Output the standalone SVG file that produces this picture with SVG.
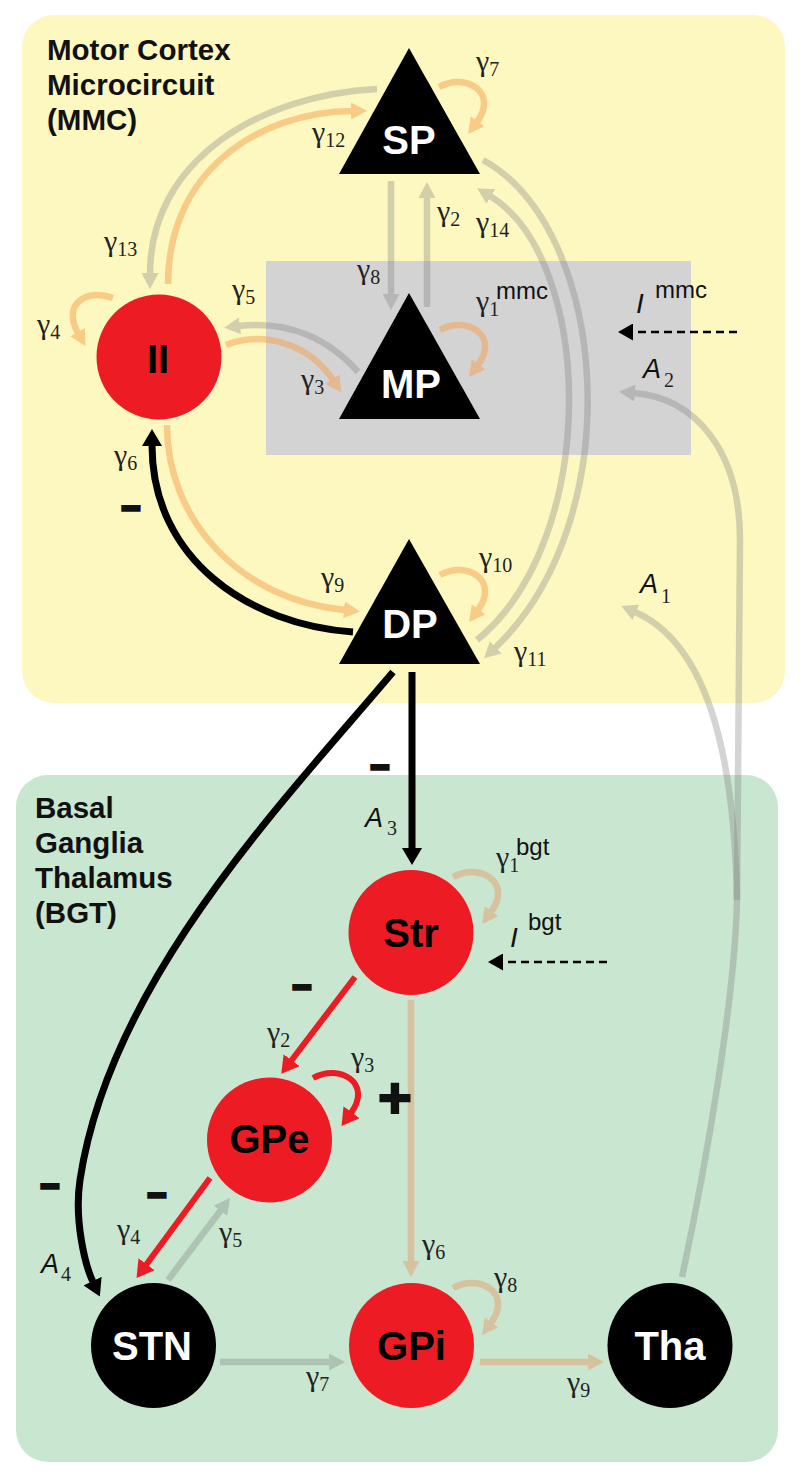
<svg xmlns="http://www.w3.org/2000/svg" width="800" height="1479" viewBox="0 0 800 1479">
<style>
.nodeW{font-family:"Liberation Sans",Arial,sans-serif;font-weight:bold;font-size:40px;fill:#fff;text-anchor:middle}
.nodeB{font-family:"Liberation Sans",Arial,sans-serif;font-weight:bold;font-size:40px;fill:#000;text-anchor:middle}
.title{font-family:"Liberation Sans",Arial,sans-serif;font-weight:bold;font-size:29.5px;fill:#111}
.g{font-family:"Liberation Serif","DejaVu Serif",serif;font-size:30px;fill:#222}
.sub{font-size:20px}
.sup{font-family:"Liberation Sans",Arial,sans-serif;font-size:24px;fill:#111}
.ital{font-family:"Liberation Sans",Arial,sans-serif;font-style:italic;font-size:28px;fill:#111}
.A{font-family:"Liberation Sans",Arial,sans-serif;font-style:italic;font-size:27px;fill:#111}
.An{font-family:"Liberation Serif","DejaVu Serif",serif;font-size:20px;fill:#222}
.sign{font-family:"Liberation Sans",Arial,sans-serif;font-weight:bold;font-size:32px;fill:#111;stroke:#111;stroke-width:3.5;text-anchor:middle}
.plus{font-family:"Liberation Sans",Arial,sans-serif;font-weight:bold;font-size:58px;fill:#111;stroke:#111;stroke-width:2;text-anchor:middle}
.gr{fill:none;stroke:#7e7e7e;stroke-width:6.5}
.or{fill:none;stroke:#f5a050;stroke-width:6.5}
.bk{fill:none;stroke:#000;stroke-width:7}
.rd{fill:none;stroke:#ed1c24;stroke-width:6}
.tn{fill:none;stroke:#d6c29e;stroke-width:6.5}
.ds{fill:none;stroke:#000;stroke-width:2.5;stroke-dasharray:8 5}
</style>
<defs>
<marker id="mGr" viewBox="0 0 16 17" refX="1" refY="8.5" markerWidth="16" markerHeight="17" markerUnits="userSpaceOnUse" orient="auto"><path d="M0,0L16,8.5L0,17z" fill="#7e7e7e"/></marker>
<marker id="mOr" viewBox="0 0 16 17" refX="1" refY="8.5" markerWidth="16" markerHeight="17" markerUnits="userSpaceOnUse" orient="auto"><path d="M0,0L16,8.5L0,17z" fill="#f5a050"/></marker>
<marker id="mTn" viewBox="0 0 16 17" refX="1" refY="8.5" markerWidth="16" markerHeight="17" markerUnits="userSpaceOnUse" orient="auto"><path d="M0,0L16,8.5L0,17z" fill="#d6c29e"/></marker>
<marker id="mBk" viewBox="0 0 17 20" refX="1" refY="10" markerWidth="17" markerHeight="20" markerUnits="userSpaceOnUse" orient="auto"><path d="M0,0L17,10L0,20z" fill="#000"/></marker>
<marker id="mRd" viewBox="0 0 17 20" refX="1" refY="10" markerWidth="17" markerHeight="20" markerUnits="userSpaceOnUse" orient="auto"><path d="M0,0L17,10L0,20z" fill="#ed1c24"/></marker>
<marker id="mDs" viewBox="0 0 15 17" refX="1" refY="8.5" markerWidth="15" markerHeight="17" markerUnits="userSpaceOnUse" orient="auto"><path d="M0,0L15,8.5L0,17z" fill="#000"/></marker>
</defs>
<rect width="800" height="1479" fill="#fff"/>
<g id="mmc-region">
<rect x="22" y="15" width="763" height="688" rx="32" fill="#fdf8c0"/>
<rect x="266" y="261" width="425" height="194" fill="#d3d3d3"/>
<text class="title" x="47" y="60">Motor Cortex</text>
<text class="title" x="47" y="95">Microcircuit</text>
<text class="title" x="47" y="130">(MMC)</text>
</g>
<g id="bgt-region">
<rect x="16" y="775" width="762" height="687" rx="32" fill="#c8e6d0"/>
<text class="title" x="35" y="818">Basal</text>
<text class="title" x="35" y="853">Ganglia</text>
<text class="title" x="35" y="888">Thalamus</text>
<text class="title" x="35" y="923">(BGT)</text>
</g>
<g id="connectors">
<g opacity="0.33"><path class="gr" marker-end="url(#mGr)" d="M377,89 C260,95 150,160 150,274"/></g>
<g opacity="0.5"><path class="or" marker-end="url(#mOr)" d="M168,284 C168,170 260,112 352,111"/></g>
<g opacity="0.5"><path class="or" marker-end="url(#mOr)" d="M439,87 C465,72 499,92 477,122"/></g>
<g opacity="0.33"><path class="gr" marker-end="url(#mGr)" d="M391,181 L391,295"/></g>
<g opacity="0.33"><path class="gr" marker-end="url(#mGr)" d="M427,307 L427,197"/></g>
<g opacity="0.33"><path class="gr" marker-end="url(#mGr)" d="M477,640 C600,540 595,260 490,196"/></g>
<g opacity="0.33"><path class="gr" marker-end="url(#mGr)" d="M483,160 C610,230 630,520 495,648"/></g>
<g opacity="0.5"><path class="or" marker-end="url(#mOr)" d="M440,330 C466,315 500,335 478,365"/></g>
<g opacity="0.33"><path class="gr" marker-end="url(#mGr)" d="M358,372 C330,340 290,320 239,326"/></g>
<g opacity="0.5"><path class="or" marker-end="url(#mOr)" d="M226,345 C265,330 310,345 333,380"/></g>
<g opacity="0.5"><path class="or" marker-end="url(#mOr)" d="M113,298 C85,288 62,305 78,333"/></g>
<path class="bk" marker-end="url(#mBk)" d="M353,632 C250,625 152,560 152,445"/>
<g opacity="0.5"><path class="or" marker-end="url(#mOr)" d="M167,425 C167,520 240,600 345,610"/></g>
<g opacity="0.5"><path class="or" marker-end="url(#mOr)" d="M440,575 C466,560 500,580 478,610"/></g>
<path class="ds" marker-end="url(#mDs)" d="M737,332 L632,332"/>
<g opacity="0.33"><path class="gr" marker-end="url(#mGr)" d="M682,1277 C705,1170 735,1000 737,900 L740,540 C740,450 695,398 634,393"/></g>
<g opacity="0.33"><path class="gr" marker-end="url(#mGr)" d="M737,900 C735,800 722,650 635,612"/></g>
<path class="bk" marker-end="url(#mBk)" d="M412,672 L412,849"/>
<path class="bk" marker-end="url(#mBk)" d="M393,672 C285,800 110,980 80,1180 C74,1220 85,1265 93,1282"/>
<path class="tn" marker-end="url(#mTn)" d="M453,877 C479,862 513,882 491,912"/>
<path class="ds" marker-end="url(#mDs)" d="M607,962 L502,962"/>
<path class="rd" marker-end="url(#mRd)" d="M355,977 L291,1061"/>
<path class="rd" marker-end="url(#mRd)" d="M313,1078 C339,1063 373,1083 351,1113"/>
<path class="tn" marker-end="url(#mTn)" d="M411,1000 L411,1262"/>
<path class="rd" marker-end="url(#mRd)" d="M210,1178 L146,1265"/>
<g opacity="0.33"><path class="gr" marker-end="url(#mGr)" d="M168,1280 L221,1210"/></g>
<g opacity="0.33"><path class="gr" marker-end="url(#mGr)" d="M220,1362 L330,1362"/></g>
<path class="tn" marker-end="url(#mTn)" d="M453,1288 C479,1273 513,1293 491,1323"/>
<path class="tn" marker-end="url(#mTn)" d="M480,1362 L589,1362"/>
</g>
<g id="SP"><path d="M409,48 L339,174 L480,174 Z" fill="#000"/><text class="nodeW" x="409" y="154">SP</text></g>
<g id="MP"><path d="M409,293 L339,419 L480,419 Z" fill="#000"/><text class="nodeW" x="411" y="398">MP</text></g>
<g id="DP"><path d="M409,539 L339,664 L480,664 Z" fill="#000"/><text class="nodeW" x="410" y="638">DP</text></g>
<g id="II"><circle cx="159" cy="357" r="62.5" fill="#ed1c24"/><text class="nodeB" x="158" y="373">II</text></g>
<g id="Str"><circle cx="411" cy="932.5" r="62.5" fill="#ed1c24"/><text class="nodeB" x="411" y="947">Str</text></g>
<g id="GPe"><circle cx="269.5" cy="1140" r="62.5" fill="#ed1c24"/><text class="nodeB" x="269.5" y="1153">GPe</text></g>
<g id="STN"><circle cx="153.5" cy="1345.5" r="62.5" fill="#000"/><text class="nodeW" x="152" y="1360">STN</text></g>
<g id="GPi"><circle cx="411.5" cy="1345.5" r="62.5" fill="#ed1c24"/><text class="nodeB" x="411.5" y="1360">GPi</text></g>
<g id="Tha"><circle cx="670" cy="1345.5" r="62.5" fill="#000"/><text class="nodeW" x="670" y="1360">Tha</text></g>
<g id="labels">
<text class="g" x="476" y="71">γ<tspan class="sub" dy="5">7</tspan></text>
<text class="g" x="312" y="142">γ<tspan class="sub" dy="5">12</tspan></text>
<text class="g" x="104" y="251">γ<tspan class="sub" dy="5">13</tspan></text>
<text class="g" x="437" y="221">γ<tspan class="sub" dy="5">2</tspan></text>
<text class="g" x="476" y="232">γ<tspan class="sub" dy="5">14</tspan></text>
<text class="g" x="357" y="279">γ<tspan class="sub" dy="5">8</tspan></text>
<text class="g" x="476" y="311">γ<tspan class="sub" dy="5">1</tspan></text>
<text class="sup" x="496" y="299">mmc</text>
<text class="ital" x="636" y="313">I</text>
<text class="sup" x="655" y="298">mmc</text>
<text class="g" x="232" y="299">γ<tspan class="sub" dy="5">5</tspan></text>
<text class="g" x="37" y="334">γ<tspan class="sub" dy="5">4</tspan></text>
<text class="g" x="301" y="389">γ<tspan class="sub" dy="5">3</tspan></text>
<text class="A" x="643" y="378">A</text><text class="An" x="664" y="387">2</text>
<text class="g" x="114" y="465">γ<tspan class="sub" dy="5">6</tspan></text>
<text class="sign" x="131" y="517">–</text>
<text class="g" x="321" y="587">γ<tspan class="sub" dy="5">9</tspan></text>
<text class="g" x="479" y="567">γ<tspan class="sub" dy="5">10</tspan></text>
<text class="g" x="514" y="661">γ<tspan class="sub" dy="5">11</tspan></text>
<text class="A" x="640" y="593">A</text><text class="An" x="661" y="603">1</text>
<text class="sign" x="380" y="776">–</text>
<text class="A" x="365" y="827">A</text><text class="An" x="387" y="835">3</text>
<text class="g" x="496" y="867">γ<tspan class="sub" dy="5">1</tspan></text>
<text class="sup" x="516" y="855">bgt</text>
<text class="ital" x="510" y="947">I</text>
<text class="sup" x="528" y="930">bgt</text>
<text class="sign" x="302" y="996">–</text>
<text class="g" x="267" y="1042">γ<tspan class="sub" dy="5">2</tspan></text>
<text class="g" x="351" y="1067">γ<tspan class="sub" dy="5">3</tspan></text>
<text class="plus" x="395" y="1118">+</text>
<text class="sign" x="50" y="1195">–</text>
<text class="sign" x="157" y="1204">–</text>
<text class="g" x="117" y="1239">γ<tspan class="sub" dy="5">4</tspan></text>
<text class="g" x="219" y="1242">γ<tspan class="sub" dy="5">5</tspan></text>
<text class="A" x="41" y="1273">A</text><text class="An" x="61" y="1281">4</text>
<text class="g" x="422" y="1254">γ<tspan class="sub" dy="5">6</tspan></text>
<text class="g" x="494" y="1287">γ<tspan class="sub" dy="5">8</tspan></text>
<text class="g" x="306" y="1386">γ<tspan class="sub" dy="5">7</tspan></text>
<text class="g" x="567" y="1392">γ<tspan class="sub" dy="5">9</tspan></text>
</g>
</svg>
